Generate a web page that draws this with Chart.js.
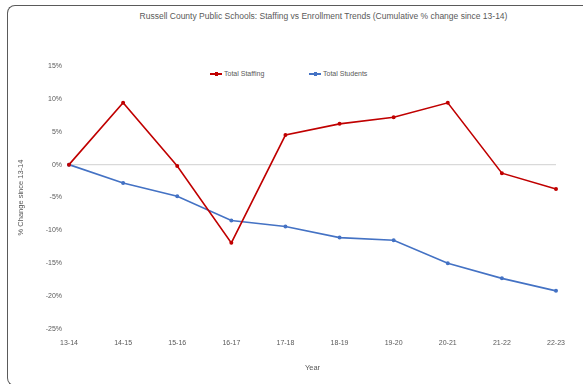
<!DOCTYPE html>
<html>
<head>
<meta charset="utf-8">
<script src="https://cdn.jsdelivr.net/npm/chart.js@4"></script>
<style>
  html, body { margin: 0; padding: 0; background: #fff; overflow: hidden; }
  body { font-family: "Liberation Sans", Arial, sans-serif; }
  #page { width: 583px; height: 384px; position: relative; overflow: hidden; }
  .card { position: absolute; left: 7px; top: 5px; width: 700px; height: 381px; border: 1.5px solid #5a5a5a; border-right: none; border-radius: 8px 0 0 8px; box-sizing: border-box; }
  .title { position: absolute; left: 0; width: 647px; top: 11px; text-align: center; font-size: 8.5px; color: #595959; }
  .legend { position: absolute; top: 70px; font-size: 7px; color: #595959; display: flex; align-items: center; }
  .legend .mk { width: 12px; height: 2px; margin-right: 2px; position: relative; }
  .legend .mk::after { content: ''; position: absolute; left: 4.5px; top: -1px; width: 3px; height: 4px; background: inherit; }
  #wrap { position: absolute; left: 0; top: 0; width: 583px; height: 384px; }
</style>
</head>
<body>
<div id="page">
<div class="card"></div>
<div class="title">Russell County Public Schools: Staffing vs Enrollment Trends (Cumulative % change since 13-14)</div>
<div class="legend" style="left:210px"><span class="mk" style="background:#c00000"></span>Total Staffing</div>
<div class="legend" style="left:309px"><span class="mk" style="background:#4472c4"></span>Total Students</div>
<div id="wrap"><canvas id="grafico"></canvas></div>
</div>
<script>
const anos = ['13-14', '14-15', '15-16', '16-17', '17-18', '18-19', '19-20', '20-21', '21-22', '22-23'];
const staffing = [0, 9.4, -0.2, -11.9, 4.5, 6.2, 7.2, 9.4, -1.3, -3.7];
const students = [0, -2.8, -4.8, -8.5, -9.4, -11.1, -11.5, -15.0, -17.3, -19.2];
const yTicks = [15, 10, 5, 0, -5, -10, -15, -20, -25];

const corTexto = '#595959';

new Chart(document.getElementById('grafico').getContext('2d'), {
    type: 'line',
    data: {
        labels: anos,
        datasets: [
            { label: 'Total Staffing', data: staffing, borderColor: '#c00000', backgroundColor: '#c00000', borderWidth: 1.6, pointRadius: 1.2, tension: 0 },
            { label: 'Total Students', data: students, borderColor: '#4472c4', backgroundColor: '#4472c4', borderWidth: 1.6, pointRadius: 1.2, tension: 0 }
        ]
    },
    options: {
        responsive: true,
        maintainAspectRatio: false,
        animation: false,
        layout: { padding: { top: 66, left: 16, right: 27, bottom: 12 } },
        plugins: { legend: { display: false }, tooltip: { enabled: false }, title: { display: false } },
        scales: {
            x: {
                offset: false,
                grid: { display: false, drawTicks: false },
                border: { display: false },
                ticks: { color: corTexto, font: { size: 7, family: 'Liberation Sans' }, padding: 10, maxRotation: 0, autoSkip: false },
                title: { display: true, text: 'Year', color: corTexto, font: { size: 7.5, family: 'Liberation Sans' }, padding: 0 },
                afterFit: s => { s.height = 43; }
            },
            y: {
                min: -25, max: 15,
                afterBuildTicks: s => { s.ticks = yTicks.map(v => ({ value: v })); },
                grid: {
                    drawTicks: false,
                    color: c => c.tick && c.tick.value === 0 ? '#d9d9d9' : 'rgba(0,0,0,0)',
                    lineWidth: 1.2
                },
                border: { display: false },
                ticks: { color: corTexto, font: { size: 7, family: 'Liberation Sans' }, padding: 7, callback: v => v + '%' },
                title: { display: true, text: '% Change since 13-14', color: corTexto, font: { size: 7.5, family: 'Liberation Sans' }, padding: 0 },
                afterFit: s => { s.width = 53; }
            }
        }
    }
});
</script>
</body>
</html>
